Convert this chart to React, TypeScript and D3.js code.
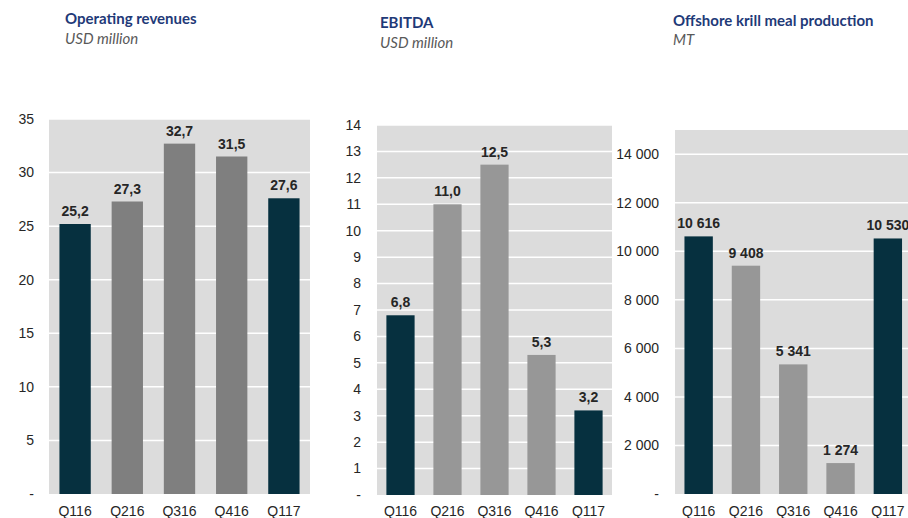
import React from 'react';
import * as d3 from 'd3';

const categories = ['Q116', 'Q216', 'Q316', 'Q416', 'Q117'];
const highlighted = ['Q116', 'Q117'];

const revenueValues = [25.2, 27.3, 32.7, 31.5, 27.6];
const revenueTicks = [0, 5, 10, 15, 20, 25, 30, 35];

const ebitdaValues = [6.8, 11.0, 12.5, 5.3, 3.2];
const ebitdaTicks = [0, 1, 2, 3, 4, 5, 6, 7, 8, 9, 10, 11, 12, 13, 14];

const krillValues = [10616, 9408, 5341, 1274, 10530];
const krillTicks = [0, 2000, 4000, 6000, 8000, 10000, 12000, 14000];

const titles = ['Operating revenues', 'EBITDA', 'Offshore krill meal production'];
const subtitles = ['USD million', 'USD million', 'MT'];

const DARK = '#06303f';
const BG = '#dcdcdc';
const TEXT = '#262626';
const TITLE = '#1f3a78';

const decimalFmt = (v: number) => d3.format('.1f')(v).replace('.', ',');
const intFmt = (v: number) => d3.format(',')(v).replace(/,/g, '\u2009'.replace('\u2009', ' '));
const tickInt = (v: number) => (v === 0 ? '-' : String(v));
const tickThousand = (v: number) => (v === 0 ? '-' : intFmt(v));

type PanelProps = {
  values: number[];
  ticks: number[];
  domainMax: number;
  x0: number;
  x1: number;
  top: number;
  bottom: number;
  tickRight: number;
  gray: string;
  labelFmt: (v: number) => string;
  tickFmt: (v: number) => string;
  title: string;
  subtitle: string;
  titleX: number;
  titleY: number;
  subtitleY: number;
};

function Panel(p: PanelProps) {
  const x = d3.scaleBand<string>().domain(categories).range([p.x0, p.x1]).paddingInner(0.4).paddingOuter(0.2);
  const y = d3.scaleLinear().domain([0, p.domainMax]).range([p.bottom, p.top]);
  return (
    <g>
      <text x={p.titleX} y={p.titleY} fill={TITLE} fontFamily="Lato, 'Open Sans', sans-serif" fontWeight="bold" fontSize={15}>
        {p.title}
      </text>
      <text x={p.titleX} y={p.subtitleY} fill="#595959" fontFamily="Lato, 'Open Sans', sans-serif" fontStyle="italic" fontSize={15}>
        {p.subtitle}
      </text>
      <rect x={p.x0} y={p.top} width={p.x1 - p.x0} height={p.bottom - p.top} fill={BG} />
      {p.ticks.filter((t) => t > 0).map((t) => (
        <line key={'g' + t} x1={p.x0} x2={p.x1} y1={y(t)} y2={y(t)} stroke="#ffffff" strokeWidth={1.5} />
      ))}
      {p.ticks.map((t) => (
        <text key={'t' + t} x={p.tickRight} y={y(t)} dy="0.35em" textAnchor="end" fontFamily="'Liberation Sans', Arial, sans-serif" fontSize={14} fill={TEXT}>
          {p.tickFmt(t)}
        </text>
      ))}
      {categories.map((c, i) => {
        const v = p.values[i];
        const bx = x(c) as number;
        const isDark = highlighted.includes(c);
        return (
          <g key={c}>
            <rect x={bx} y={y(v)} width={x.bandwidth()} height={p.bottom - y(v)} fill={isDark ? DARK : p.gray} />
            <text x={bx + x.bandwidth() / 2} y={y(v) - 8} textAnchor="middle" fontFamily="'Liberation Sans', Arial, sans-serif" fontWeight="bold" fontSize={14} fill={TEXT}>
              {p.labelFmt(v)}
            </text>
            <text x={bx + x.bandwidth() / 2} y={516} textAnchor="middle" fontFamily="'Liberation Sans', Arial, sans-serif" fontSize={14} fill={TEXT}>
              {c}
            </text>
          </g>
        );
      })}
    </g>
  );
}

export default function App() {
  return (
    <svg width={908} height={518} style={{ position: 'absolute', left: 0, top: 0, background: '#ffffff' }}>
      <Panel values={revenueValues} ticks={revenueTicks} domainMax={35} x0={49} x1={310} top={119} bottom={494}
        tickRight={34} gray="#7f7f7f" labelFmt={decimalFmt} tickFmt={tickInt}
        title={titles[0]} subtitle={subtitles[0]} titleX={65} titleY={24} subtitleY={44} />
      <Panel values={ebitdaValues} ticks={ebitdaTicks} domainMax={14} x0={377} x1={612} top={125} bottom={495}
        tickRight={361} gray="#979797" labelFmt={decimalFmt} tickFmt={tickInt}
        title={titles[1]} subtitle={subtitles[1]} titleX={380} titleY={28} subtitleY={48} />
      <Panel values={krillValues} ticks={krillTicks} domainMax={15000} x0={675} x1={911.5} top={130} bottom={494}
        tickRight={659} gray="#979797" labelFmt={intFmt} tickFmt={tickThousand}
        title={titles[2]} subtitle={subtitles[2]} titleX={673} titleY={26} subtitleY={45} />
    </svg>
  );
}
